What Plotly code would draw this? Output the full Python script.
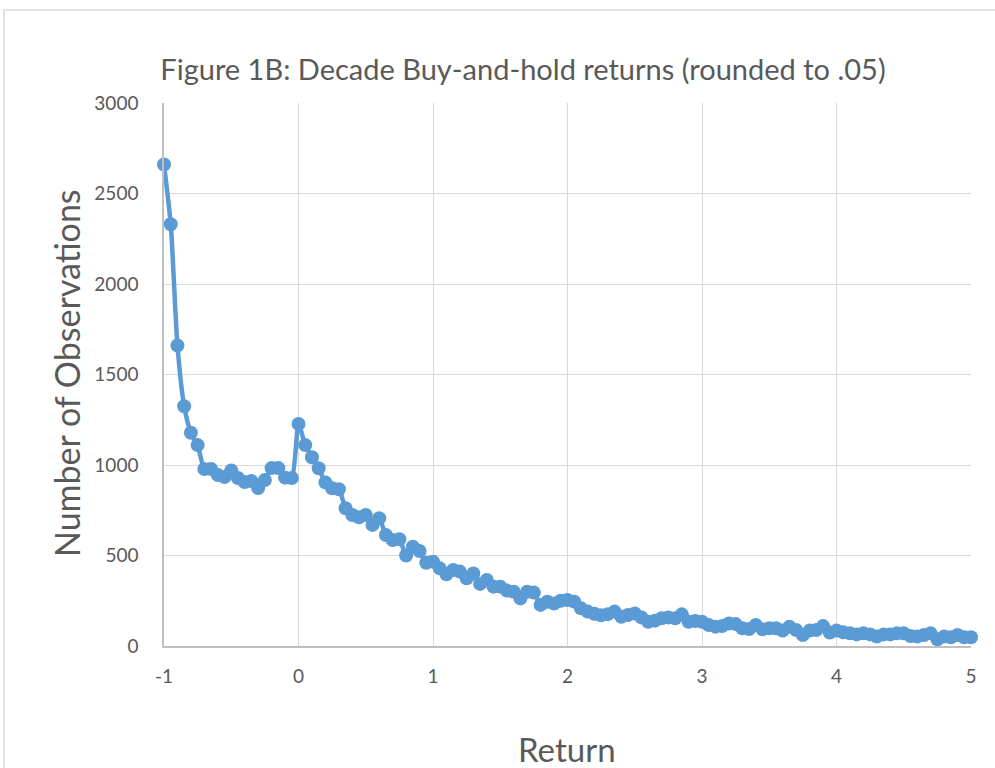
import plotly.graph_objects as go

returns = [round(-1 + 0.05 * i, 2) for i in range(121)]
observations = [
    2660, 2330, 1660, 1325, 1178, 1110, 978, 978, 945, 934,
    970, 928, 906, 912, 873, 917, 983, 983, 930, 928,
    1227, 1110, 1043, 982, 904, 871, 866, 761, 724, 711,
    724, 669, 706, 613, 586, 590, 500, 549, 525, 460,
    466, 429, 396, 420, 411, 374, 401, 343, 365, 328,
    328, 306, 300, 263, 300, 295, 227, 245, 235, 250,
    254, 245, 208, 190, 178, 170, 176, 190, 162, 171,
    180, 158, 134, 140, 153, 158, 153, 175, 134, 138,
    134, 116, 107, 110, 125, 121, 98, 94, 116, 92,
    98, 98, 85, 107, 88, 61, 85, 88, 110, 74,
    85, 76, 70, 64, 70, 64, 52, 64, 64, 70,
    70, 55, 52, 61, 70, 37, 52, 48, 61, 48,
    48,
]
x_ticks = [-1, 0, 1, 2, 3, 4, 5]
y_ticks = [0, 500, 1000, 1500, 2000, 2500, 3000]

FONT = "Lato"
GREY = "#595959"
BLUE = "#5B9BD5"

W, H = 995, 768

fig = go.Figure()
fig.add_trace(go.Scatter(
    x=returns, y=observations, mode="lines+markers",
    line=dict(color=BLUE, width=4.5, shape="spline", smoothing=0.6),
    marker=dict(color=BLUE, size=14),
    cliponaxis=False, showlegend=False,
))

fig.update_layout(
    width=W, height=H,
    margin=dict(l=164, r=24, t=103, b=122),
    paper_bgcolor="white", plot_bgcolor="white",
    font=dict(family=FONT, color=GREY),
    title=dict(text="Figure 1B: Decade Buy-and-hold returns (rounded to .05)",
               x=523 / W, xref="container", xanchor="center",
               y=1 - 70 / H, yref="container", yanchor="middle",
               font=dict(family=FONT, size=29, color=GREY)),
    xaxis=dict(range=[-1, 5], tickvals=x_ticks, ticktext=[str(v) for v in x_ticks],
               showgrid=True, gridcolor="#D9D9D9", gridwidth=1,
               zeroline=False, showline=True, linecolor="#BFBFBF", linewidth=1.5,
               ticks="", tickfont=dict(size=19, color=GREY, family=FONT),
               ticklabelstandoff=12),
    yaxis=dict(range=[0, 3000], tickvals=y_ticks, ticktext=[str(v) for v in y_ticks],
               showgrid=True, gridcolor="#D9D9D9", gridwidth=1,
               zeroline=False, showline=True, linecolor="#BFBFBF", linewidth=1.5,
               ticks="", tickfont=dict(size=19, color=GREY, family=FONT),
               ticklabelstandoff=20),
    annotations=[
        dict(text="Return", xref="paper", yref="paper",
             x=(567 - 164) / 807, y=-(749 - 646) / 543,
             xanchor="center", yanchor="middle", showarrow=False,
             font=dict(size=33, color=GREY, family=FONT)),
        dict(text="Number of Observations", xref="paper", yref="paper",
             x=-(164 - 66) / 807, y=(646 - 373) / 543, textangle=-90,
             xanchor="center", yanchor="middle", showarrow=False,
             font=dict(size=34, color=GREY, family=FONT)),
    ],
    shapes=[dict(type="rect", xref="paper", yref="paper",
                 x0=-(164 - 4) / 807, x1=1.2, y0=-0.5, y1=(646 - 10) / 543,
                 line=dict(color="#D9D9D9", width=1.5), layer="below")],
)

fig.write_html(
    "out.html",
    config={"displayModeBar": False},
    post_script="document.body.style.margin='0';document.body.style.overflow='hidden';",
)
